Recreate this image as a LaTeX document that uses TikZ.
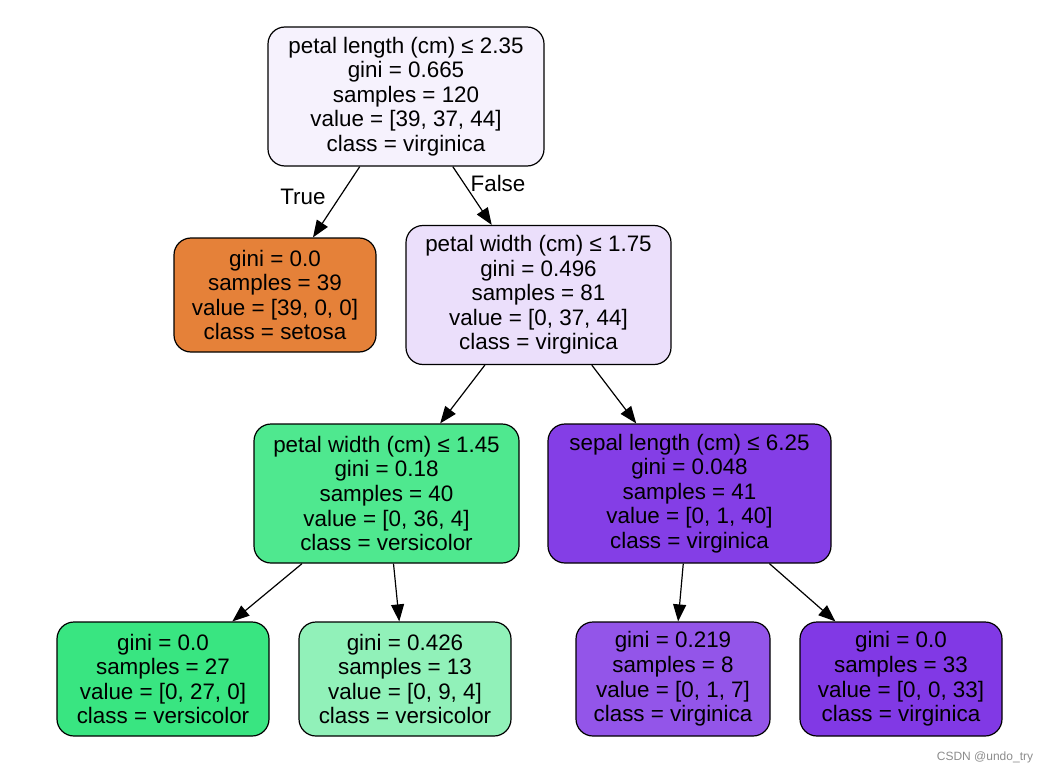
\documentclass[tikz,border=0pt]{standalone}
\usepackage{fontspec}
\setmainfont{Liberation Sans}
\usetikzlibrary{arrows.meta}
\definecolor{rootfill}{HTML}{F6F2FD}
\definecolor{setosafill}{HTML}{E58139}
\definecolor{pwfill}{HTML}{EBDFFB}
\definecolor{versfill}{HTML}{4FE88F}
\definecolor{virgfill}{HTML}{843EE6}
\definecolor{versleaf}{HTML}{39E581}
\definecolor{versmix}{HTML}{91F1B9}
\definecolor{virgmix}{HTML}{9355E9}
\definecolor{virgleaf}{HTML}{8139E5}
\tikzset{
  split/.style={draw, line width=1.2pt, rounded corners=17pt, align=center,
    font=\fontsize{22.4}{24.6}\selectfont, inner sep=0pt, minimum height=139pt},
  leaf/.style={split, minimum height=114pt},
  edgelabel/.style={font=\fontsize{22.4}{24.6}\selectfont, inner sep=0pt}
}
\begin{document}
\begin{tikzpicture}[x=1pt, y=-1pt]
      \useasboundingbox (0,0) rectangle (1052,773);
      \draw
        (406,96.5) node[split, fill=rootfill, minimum width=276pt] (0)
          {petal length (cm) ≤ 2.35\\gini = 0.665\\samples = 120\\value = [39, 37, 44]\\class = virginica}
        (275,295) node[leaf, fill=setosafill, minimum width=202pt] (1)
          {gini = 0.0\\samples = 39\\value = [39, 0, 0]\\class = setosa}
        (538.5,295) node[split, fill=pwfill, minimum width=265pt] (2)
          {petal width (cm) ≤ 1.75\\gini = 0.496\\samples = 81\\value = [0, 37, 44]\\class = virginica}
        (386.5,493.5) node[split, fill=versfill, minimum width=265pt] (3)
          {petal width (cm) ≤ 1.45\\gini = 0.18\\samples = 40\\value = [0, 36, 4]\\class = versicolor}
        (689.5,493.5) node[split, fill=virgfill, minimum width=283pt] (4)
          {sepal length (cm) ≤ 6.25\\gini = 0.048\\samples = 41\\value = [0, 1, 40]\\class = virginica}
        (163,679) node[leaf, fill=versleaf, minimum width=212pt] (5)
          {gini = 0.0\\samples = 27\\value = [0, 27, 0]\\class = versicolor}
        (405,679) node[leaf, fill=versmix, minimum width=212pt] (6)
          {gini = 0.426\\samples = 13\\value = [0, 9, 4]\\class = versicolor}
        (673,679) node[leaf, fill=virgmix, minimum width=194pt] (7)
          {gini = 0.219\\samples = 8\\value = [0, 1, 7]\\class = virginica}
        (901,679) node[leaf, fill=virgleaf, minimum width=202pt] (8)
          {gini = 0.0\\samples = 33\\value = [0, 0, 33]\\class = virginica};
      \node[edgelabel] (true) at (303,197) {True};
      \node[edgelabel] (false) at (498,183) {False};
      \node[font=\fontsize{12}{14}\selectfont, text=black!45, inner sep=0pt] (mark) at (985,757) {CSDN @undo\_try};
      \begin{scope}[-{Triangle[length=17pt,width=13pt]}, line width=1.2pt]
        \draw (0) to (1);
        \draw (0) to (2);
        \draw (2) to (3);
        \draw (2) to (4);
        \draw (3) to (5);
        \draw (3) to (6);
        \draw (4) to (7);
        \draw (4) to (8);
      \end{scope}
    \end{tikzpicture}
\end{document}
